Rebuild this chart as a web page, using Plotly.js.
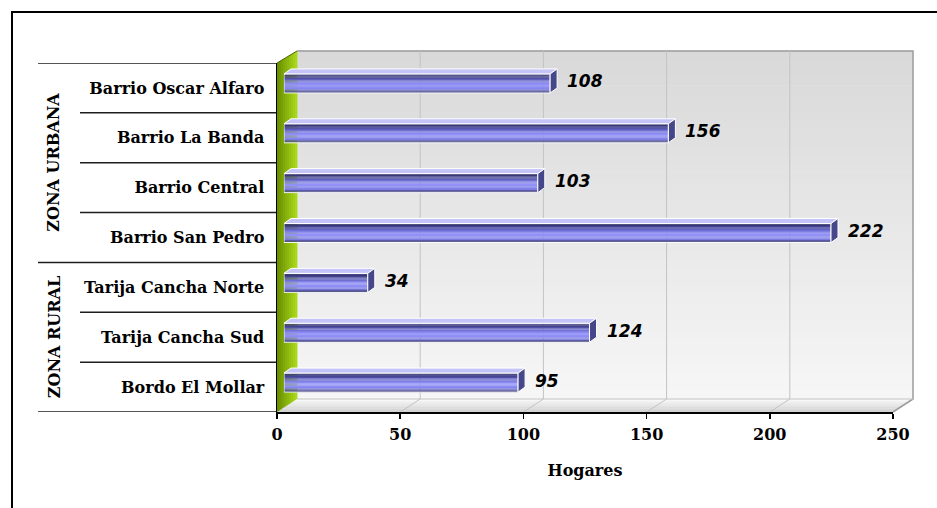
<!DOCTYPE html>
<html><head><meta charset="utf-8">
<script src="https://cdn.plot.ly/plotly-3.0.1.min.js"></script>
<style>html,body{margin:0;padding:0;background:#fff}</style>
</head><body><div id="chart" style="width:937px;height:508px"></div>
<script>
// ---------- data ----------
const categories = ['Barrio Oscar Alfaro','Barrio La Banda','Barrio Central','Barrio San Pedro','Tarija Cancha Norte','Tarija Cancha Sud','Bordo El Mollar'];
const hogares = [108,156,103,222,34,124,95];
const zoneNames = ['ZONA URBANA','ZONA RURAL'];
const zoneOf = ['ZONA URBANA','ZONA URBANA','ZONA URBANA','ZONA URBANA','ZONA RURAL','ZONA RURAL','ZONA RURAL'];
const xTicks = [0,50,100,150,200,250];
const xTitle = 'Hogares';

// ---------- geometry / style ----------
const W=937,H=508,L=277,R=44,T=63,B=96;
const PW=W-L-R, PH=H-T-B;
const XMAX=250;
const pxX=PW/XMAX;
const n=categories.length;
const idx=categories.map((c,i)=>i);
const pxRow=PH/n;
const FD={dx:20,dy:13};          // floor depth
const BO={dx:7,dy:4.5};          // bar front-face offset
const BD={dx:7,dy:5};            // bar depth
const BH=19;                     // bar height px
const hU=BH/pxRow;

const serif={family:'DejaVu Serif, Liberation Serif, serif',size:16,color:'#000',weight:'bold'};

function hex(c){return [parseInt(c.slice(1,3),16),parseInt(c.slice(3,5),16),parseInt(c.slice(5,7),16)];}
function mix(a,b,t){const A=hex(a),B2=hex(b);return 'rgb('+A.map((v,i)=>Math.round(v+(B2[i]-v)*t)).join(',')+')';}

const shapes=[];
const pix=(o)=>Object.assign({xref:'paper',yref:'paper',xsizemode:'pixel',ysizemode:'pixel',xanchor:0,yanchor:0,layer:'below'},o);

// back wall gradient
const wallTop=PH+FD.dy-1, wallBot=FD.dy;
const NW=40;
for(let k=0;k<NW;k++){
  const y0=wallBot+(wallTop-wallBot)*k/NW, y1=wallBot+(wallTop-wallBot)*(k+1)/NW+0.6;
  shapes.push(pix({type:'rect',x0:FD.dx,x1:FD.dx+PW,y0:y0,y1:y1,fillcolor:mix('#f6f6f6','#d9d9d9',k/(NW-1)),line:{width:0}}));
}
// floor gradient
const NF=8;
for(let k=0;k<NF;k++){
  const u0=FD.dy*k/NF,u1=FD.dy*(k+1)/NF+0.3;
  const a=u0*FD.dx/FD.dy,b=u1*FD.dx/FD.dy;
  shapes.push(pix({type:'path',path:`M${a},${u0} L${b},${u1} L${PW+b},${u1} L${PW+a},${u0} Z`,fillcolor:mix('#d2d2d2','#f7f7f7',k/(NF-1)),line:{width:0}}));
}
// wall outline
shapes.push(pix({type:'path',path:`M${FD.dx},${wallTop} L${FD.dx+PW},${wallTop} L${FD.dx+PW},${wallBot} L${PW},0`,line:{color:'#9c9c9c',width:1.5}}));
shapes.push(pix({type:'path',path:`M${FD.dx},${wallBot} L${FD.dx+PW},${wallBot}`,line:{color:'#c4c4c4',width:1}}));
// gridlines on floor + wall
xTicks.slice(1,-1).forEach(t=>{
  shapes.push({type:'path',layer:'below',xref:'x',yref:'paper',xsizemode:'pixel',ysizemode:'pixel',xanchor:t,yanchor:0,
    path:`M0,0 L${FD.dx},${FD.dy} L${FD.dx},${wallTop}`,line:{color:'#c3c3c3',width:1}});
});
// green side wall
const NG=10;
for(let k=0;k<NG;k++){
  const a=FD.dx*k/NG,b=FD.dx*(k+1)/NG+0.4;
  const ya=a*FD.dy/FD.dx,yb=b*FD.dy/FD.dx;
  const ta=PH+a*(wallTop-PH)/FD.dx,tb=PH+b*(wallTop-PH)/FD.dx;
  shapes.push(pix({type:'path',path:`M${a},${ya} L${b},${yb} L${b},${tb} L${a},${ta} Z`,fillcolor:mix('#6a9000','#a8d81a',k/(NG-1)),line:{width:0}}));
}
shapes.push(pix({type:'path',path:`M0,${PH} L${FD.dx},${wallTop}`,line:{color:'#4a6a00',width:1}}));
// category separators
idx.forEach(i=>{
  if(i===0) return;
  const grp=zoneOf[i]!==zoneOf[i-1];
  shapes.push({type:'line',layer:'below',xref:'paper',yref:'y',x0:(grp?38-L:80-L)/PW,x1:0,y0:i-0.5,y1:i-0.5,line:{color:'#1e1e1e',width:1.5}});
});
shapes.push({type:'line',layer:'below',xref:'paper',yref:'y',x0:(38-L)/PW,x1:0,y0:-0.5,y1:-0.5,line:{color:'#1e1e1e',width:1.5}});
shapes.push({type:'line',layer:'below',xref:'paper',yref:'y',x0:(38-L)/PW,x1:0,y0:n-0.5,y1:n-0.5,line:{color:'#1e1e1e',width:1.5}});
// outer frame
shapes.push({type:'rect',layer:'above',xref:'paper',yref:'paper',x0:(12-L)/PW,x1:(W+20-L)/PW,y0:-(B+20)/PH,y1:(PH+T-12)/PH,line:{color:'#000',width:2},fillcolor:'rgba(0,0,0,0)'});

// 3D bar faces
const dxData=BD.dx/pxX;
hogares.forEach((v,i)=>{
  shapes.push({type:'path',layer:'above',xref:'x2',yref:'y2',xsizemode:'scaled',ysizemode:'pixel',yanchor:i,
    path:`M0,${BH/2} L${v},${BH/2} L${v+dxData},${BH/2+BD.dy} L${dxData},${BH/2+BD.dy} Z`,fillcolor:'#c4c4f8',line:{color:'#ffffff',width:1}});
  shapes.push({type:'path',layer:'above',xref:'x2',yref:'y2',xsizemode:'pixel',ysizemode:'pixel',xanchor:v,yanchor:i,
    path:`M0,${BH/2} L${BD.dx},${BH/2+BD.dy} L${BD.dx},${-BH/2+BD.dy} L0,${-BH/2} Z`,fillcolor:'#46468a',line:{color:'#ffffff',width:1}});
});

// bar bands (vertical gradient of front face)
const bandStops=['#2e2e64','#37377a','#424290','#5050a6','#6060bc','#7070d2','#7e7ee4','#8a8af2','#9090f8','#9090f8','#8c8cf4','#8686ee','#7c7ce0','#5a5aa8','#40407e'];
const NB=bandStops.length;
const traces=[{type:'scatter',x:hogares,y:idx,mode:'markers',marker:{opacity:0},xaxis:'x',yaxis:'y',hoverinfo:'skip',showlegend:false}];
bandStops.forEach((c,k)=>{
  traces.push({type:'bar',orientation:'h',x:hogares,y:idx,xaxis:'x2',yaxis:'y2',width:hU/NB*1.05,offset:-hU/2+k*hU/NB,
    marker:{color:c,line:{width:0}},hoverinfo:'skip',showlegend:false});
});
traces.push({type:'bar',orientation:'h',x:hogares,y:idx,xaxis:'x2',yaxis:'y2',width:hU,offset:-hU/2,
  marker:{color:'rgba(0,0,0,0)',line:{color:'rgba(255,255,255,0.95)',width:1}},hoverinfo:'skip',showlegend:false});

// annotations
const annotations=hogares.map((v,i)=>({xref:'x2',yref:'y2',x:v,y:i,text:String(v),showarrow:false,xanchor:'left',yanchor:'middle',xshift:BD.dx+8,yshift:2,
  font:{family:'DejaVu Sans, Liberation Sans, sans-serif',size:17,color:'#000',weight:'bold',style:'italic'}}));
zoneNames.forEach(z=>{
  const ids=idx.filter(i=>zoneOf[i]===z);
  annotations.push({xref:'paper',yref:'y',x:(54-L)/PW,y:(ids[0]+ids[ids.length-1])/2,text:z,textangle:-90,showarrow:false,xanchor:'center',yanchor:'middle',font:serif});
});

const layout={
  width:W,height:H,margin:{l:L,r:R,t:T,b:B},
  paper_bgcolor:'#fff',plot_bgcolor:'rgba(0,0,0,0)',
  barmode:'overlay',showlegend:false,
  xaxis:{range:[0,XMAX],tickvals:xTicks,ticks:'outside',ticklen:5,tickwidth:1.5,tickcolor:'#000',showline:true,linecolor:'#000',linewidth:1.5,
    showgrid:false,zeroline:false,tickfont:serif,ticklabelstandoff:2,title:{text:xTitle,font:serif,standoff:22},fixedrange:true},
  yaxis:{range:[n-0.5,-0.5],tickvals:idx,ticktext:categories,ticks:'',showline:true,linecolor:'#000',linewidth:1.5,
    showgrid:false,zeroline:false,tickfont:serif,ticklabelstandoff:8,fixedrange:true},
  xaxis2:{domain:[BO.dx/PW,1],range:[0,(PW-BO.dx)/pxX],anchor:'y2',visible:false,fixedrange:true},
  yaxis2:{domain:[BO.dy/PH,1],range:[n-0.5,-0.5+BO.dy/pxRow],anchor:'x2',visible:false,fixedrange:true},
  shapes:shapes,annotations:annotations
};
Plotly.newPlot('chart',traces,layout,{displayModeBar:false,staticPlot:true});
</script></body></html>
